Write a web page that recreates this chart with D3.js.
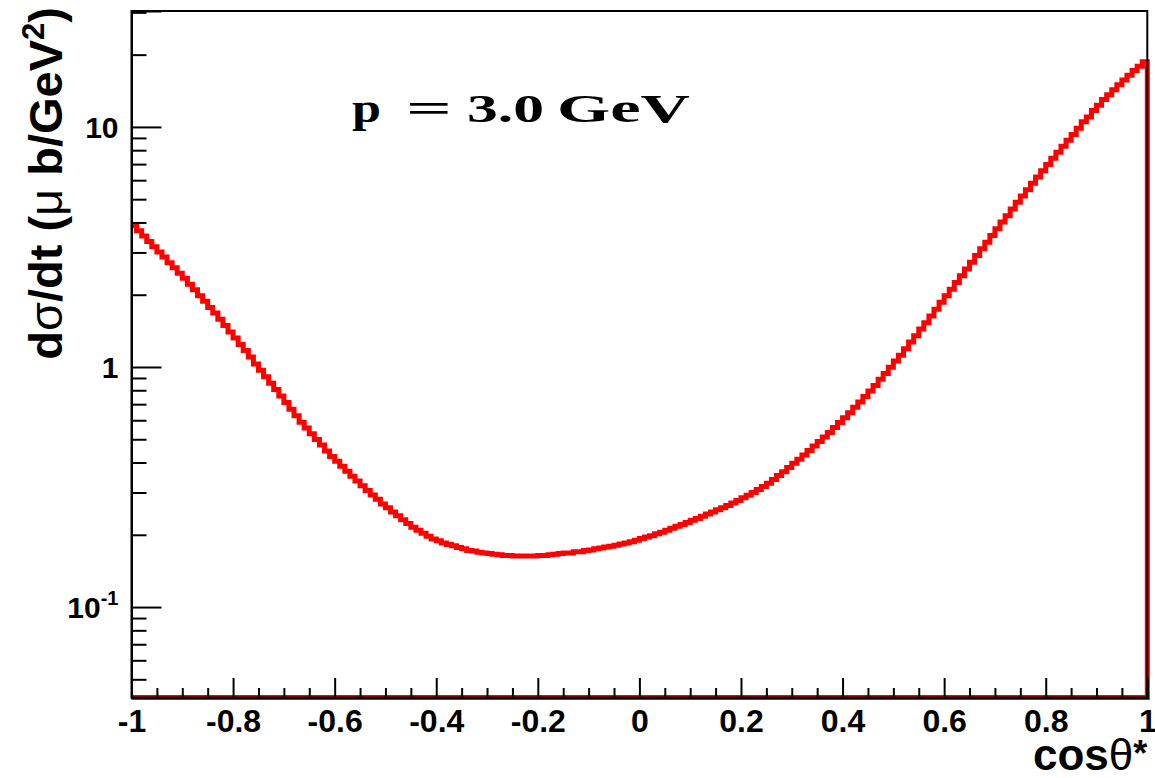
<!DOCTYPE html>
<html>
<head>
<meta charset="utf-8">
<script src="https://cdn.jsdelivr.net/npm/d3@7"></script>
<style>
  body { margin: 0; background: #fff; }
  svg { display: block; }
</style>
</head>
<body>
<svg id="chart"></svg>
<script>
// d(sigma)/dt vs cos(theta*) at p = 3.0 GeV, 200-bin histogram, log y
const width = 1155;
const height = 778;

const xRange = [-1, 1];
const nBins = 200;

// bin contents (mu b / GeV^2)
const binValues = [
  3.88, 3.69, 3.51, 3.33, 3.17, 3.01, 2.87, 2.72, 2.59, 2.46,
  2.34, 2.21, 2.10, 1.98, 1.88, 1.77, 1.68, 1.58, 1.49, 1.40,
  1.32, 1.24, 1.17, 1.10, 1.03, 0.969, 0.911, 0.856, 0.806, 0.758,
  0.711, 0.667, 0.627, 0.589, 0.557, 0.527, 0.499, 0.473, 0.447, 0.424,
  0.405, 0.386, 0.368, 0.351, 0.335, 0.320, 0.306, 0.293, 0.281, 0.269,
  0.259, 0.249, 0.240, 0.231, 0.223, 0.215, 0.209, 0.203, 0.197, 0.192,
  0.189, 0.185, 0.182, 0.180, 0.177, 0.175, 0.172, 0.171, 0.169, 0.168,
  0.167, 0.166, 0.165, 0.164, 0.164, 0.163, 0.163, 0.163, 0.163, 0.163,
  0.164, 0.164, 0.165, 0.166, 0.167, 0.168, 0.168, 0.170, 0.170, 0.172,
  0.173, 0.175, 0.176, 0.178, 0.179, 0.181, 0.183, 0.185, 0.187, 0.190,
  0.193, 0.196, 0.198, 0.202, 0.205, 0.209, 0.213, 0.217, 0.221, 0.225,
  0.230, 0.234, 0.239, 0.244, 0.249, 0.254, 0.259, 0.265, 0.271, 0.278,
  0.285, 0.292, 0.300, 0.309, 0.318, 0.328, 0.340, 0.353, 0.366, 0.381,
  0.397, 0.413, 0.430, 0.449, 0.469, 0.489, 0.511, 0.534, 0.560, 0.587,
  0.615, 0.645, 0.679, 0.715, 0.754, 0.794, 0.838, 0.888, 0.940, 0.998,
  1.06, 1.12, 1.19, 1.27, 1.35, 1.44, 1.53, 1.63, 1.74, 1.86,
  1.98, 2.11, 2.25, 2.40, 2.56, 2.73, 2.91, 3.11, 3.31, 3.53,
  3.77, 4.02, 4.27, 4.55, 4.85, 5.16, 5.47, 5.82, 6.18, 6.57,
  6.97, 7.40, 7.84, 8.30, 8.79, 9.31, 9.87, 10.5, 11.0, 11.7,
  12.3, 13.0, 13.6, 14.3, 15.0, 15.7, 16.4, 17.2, 17.9, 18.7
];

const xMajorTicks = [-1, -0.8, -0.6, -0.4, -0.2, 0, 0.2, 0.4, 0.6, 0.8, 1];
const xTickLabels = ["-1", "-0.8", "-0.6", "-0.4", "-0.2", "0", "0.2", "0.4", "0.6", "0.8", "1"];
const yDomain = [0.042, 30.4];
const yMajorTicks = [0.1, 1, 10];
const yTickBase = ["10", "1", "10"];
const yTickExp = ["-1", "", ""];

const plot = { left: 131.5, right: 1147.3, top: 11, bottom: 697.5 };

const svg = d3.select("#chart")
    .attr("width", width)
    .attr("height", height)
    .attr("viewBox", [0, 0, width, height]);

const x = d3.scaleLinear().domain(xRange).range([plot.left, plot.right]);
const y = d3.scaleLog().domain(yDomain).range([plot.bottom, plot.top]);

// histogram outline (steps); ends with a drop to the bottom and runs back along it
const binWidth = (xRange[1] - xRange[0]) / nBins;
const pts = [];
binValues.forEach((v, i) => {
    const lo = xRange[0] + i * binWidth;
    pts.push([x(lo), y(v)]);
    pts.push([x(lo + binWidth), y(v)]);
});
pts.push([x(xRange[1]), plot.bottom]);
pts.push([x(xRange[0]), plot.bottom]);

svg.append("path")
    .attr("d", d3.line()(pts))
    .attr("fill", "none")
    .attr("stroke", "#ff0000")
    .attr("stroke-width", 5)
    .attr("stroke-linejoin", "miter");

// frame
svg.append("rect")
    .attr("x", plot.left)
    .attr("y", plot.top)
    .attr("width", plot.right - plot.left)
    .attr("height", plot.bottom - plot.top)
    .attr("fill", "none")
    .attr("stroke", "#000")
    .attr("stroke-width", 2);

// x axis: major + minor ticks pointing inward
const xMinor = d3.range(-1, 1.0001, 0.05).filter(t => Math.abs(Math.round(t * 5) - t * 5) > 1e-6);
const gxMinor = svg.append("g").attr("transform", `translate(0,${plot.bottom})`)
    .call(d3.axisBottom(x).tickValues(xMinor).tickSize(-9.5).tickFormat(""));
const gx = svg.append("g").attr("transform", `translate(0,${plot.bottom})`)
    .call(d3.axisBottom(x).tickValues(xMajorTicks).tickSize(-19.5).tickPadding(12)
        .tickFormat((d, i) => xTickLabels[i]));
[gxMinor, gx].forEach(g => {
    g.select(".domain").attr("stroke-width", 2);
    g.selectAll(".tick line").attr("stroke-width", 2);
});
gx.selectAll(".tick text")
    .attr("font-family", "'Liberation Sans', Arial, sans-serif")
    .attr("font-weight", "bold")
    .attr("font-size", 32)
    .attr("fill", "#000");

// y axis: log, major at decades, minor at 2..9
const yMinor = [];
[0.01, 0.1, 1, 10].forEach(dec => {
    for (let k = 2; k <= 9; k++) {
        const t = dec * k;
        if (t >= yDomain[0] && t <= yDomain[1]) yMinor.push(t);
    }
});
const gyMinor = svg.append("g").attr("transform", `translate(${plot.left},0)`)
    .call(d3.axisLeft(y).tickValues(yMinor).tickSize(-15).tickFormat(""));
const gy = svg.append("g").attr("transform", `translate(${plot.left},0)`)
    .call(d3.axisLeft(y).tickValues(yMajorTicks).tickSize(-30).tickFormat(""));
[gyMinor, gy].forEach(g => {
    g.select(".domain").attr("stroke-width", 2);
    g.selectAll(".tick line").attr("stroke-width", 2);
});

const yLab = svg.append("g")
    .attr("font-family", "'Liberation Sans', Arial, sans-serif")
    .attr("font-weight", "bold")
    .attr("fill", "#000");
yMajorTicks.forEach((t, i) => {
    const txt = yLab.append("text")
        .attr("x", plot.left - 13)
        .attr("y", y(t) + 11)
        .attr("text-anchor", "end")
        .attr("font-size", 30);
    txt.append("tspan").text(yTickBase[i]);
    if (yTickExp[i]) {
        txt.append("tspan")
            .attr("dy", -13)
            .attr("font-size", 20)
            .text(yTickExp[i]);
    }
});

// axis titles
const xTitle = svg.append("text")
    .attr("x", plot.right)
    .attr("y", 770)
    .attr("text-anchor", "end")
    .attr("font-family", "'Liberation Sans', Arial, sans-serif")
    .attr("font-weight", "bold")
    .attr("font-size", 44)
    .attr("fill", "#000");
xTitle.append("tspan").text("cos");
xTitle.append("tspan").attr("font-weight", "normal").text("θ");
xTitle.append("tspan").attr("dy", -4).attr("font-size", 36).text("*");

const yTitle = svg.append("text")
    .attr("transform", `translate(62,7) rotate(-90)`)
    .attr("text-anchor", "end")
    .attr("font-family", "'Liberation Sans', Arial, sans-serif")
    .attr("font-weight", "bold")
    .attr("font-size", 47)
    .attr("fill", "#000");
yTitle.append("tspan").text("d");
yTitle.append("tspan").attr("font-weight", "normal").text("σ");
yTitle.append("tspan").text("/dt (");
yTitle.append("tspan").attr("font-weight", "normal").text("μ");
yTitle.append("tspan").text(" b/GeV");
yTitle.append("tspan").attr("dy", -18).attr("font-size", 31).text("2");
yTitle.append("tspan").attr("dy", 18).text(")");

// momentum label, wide bold serif like the TLatex math font
const labelParts = [
    { text: "p", x0: 352, x1: 381 },
    { text: "=", x0: 406, x1: 452 },
    { text: "3.0", x0: 467, x1: 544 },
    { text: "GeV", x0: 557, x1: 690 }
];
const lab = svg.append("g")
    .attr("font-family", "'Liberation Serif', 'DejaVu Serif', serif")
    .attr("font-weight", "bold")
    .attr("font-size", 40)
    .attr("fill", "#000");
labelParts.forEach(p => {
    lab.append("text")
        .attr("x", p.x0)
        .attr("y", 122)
        .attr("textLength", p.x1 - p.x0)
        .attr("lengthAdjust", "spacingAndGlyphs")
        .text(p.text);
});
</script>
</body>
</html>
